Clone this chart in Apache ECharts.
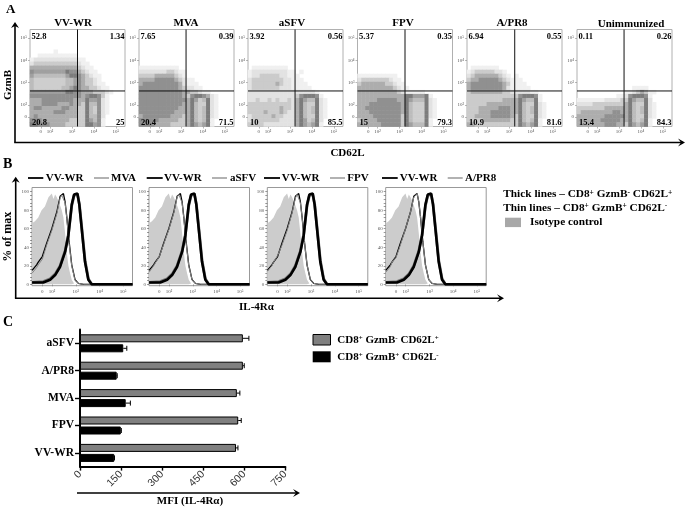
<!DOCTYPE html>
<html><head><meta charset="utf-8">
<style>html,body{margin:0;padding:0;background:#fff}#c{width:689px;height:510px;filter:blur(0.45px)}</style>
<script src="https://cdn.jsdelivr.net/npm/echarts@6/dist/echarts.min.js"></script>
</head><body><div id="c"></div>
<script>
// ---------- DATA ----------
const flowNames = ['VV-WR','MVA','aSFV','FPV','A/PR8','Unimmunized'];
const flowUL = ['52.8','7.65','3.92','5.37','6.94','0.11'];
const flowUR = ['1.34','0.39','0.56','0.35','0.55','0.26'];
const flowLL = ['20.8','20.4','10','15','10.9','15.4'];
const flowLR = ['25','71.5','85.5','79.3','81.6','84.3'];
const flowGateX = [3.25,3.23,3.23,3.25,3.26,3.23];
const flowGateY = 2.63;
const flowTickValues = [1.58,2,3,4,5];
const flowYTickValues = [1.47,2,3,4,5];
const flowTickLabels = ['0','10²','10³','10⁴','10⁵'];
// density estimates: 24 rows x 24 columns, 0 = empty, 9 = densest
const densVV = [
'000000000000000000000000','000000000000000000000000','000000000000000000000000','000000000000000000000000',
'000000000000000000000000','000000100000000000000000','001111111111000000000000','122222222222110000000000',
'233333333333211000000000','444444444444321100000000','577777777655432110000000','788888888766543211000000',
'899999999887543321000000','899999999887543321100000','899999998876544332110000','777777777665544433321000',
'555555555555545665310000','444555555554446775210000','444555544454436885210000','455444445544336895210000',
'444444555444336895210000','454444444444336885200000','555444444433336785100000','665554444333336675100000'];
const densMVA = [
'000000000000000000000000','000000000000000000000000','000000000000000000000000','000000000000000000000000',
'000000000000000000000000','000000000000000000000000','000000000000000000000000','000000000000000000000000',
'000000000000000000000000','111111111100000000000000','222222233211000000000000','333344444321000000000000',
'444455555432110000000000','455555555542111000000000','555555555543221100000000','555555555554433211000000',
'555555555554356654210000','555555555555467986210000','555555555554468996210000','555555555544468986210000',
'555555555444468986210000','455555554443468986210000','555554444433468986100000','555544443333467876100000'];
const densSFV = [
'000000000000000000000000','000000000000000000000000','000000000000000000000000','000000000000000000000000',
'000000000000000000000000','000000000000000000000000','000000000000000000000000','000000000000000000000000',
'000000000000000000000000','011111111100000000000000','122222222211010000000000','122333332211100000000000',
'233333333221110000000000','233333343221111000000000','233333332221111100000000','222222222222222221000000',
'222222222222356665100000','223223232232467886210000','333333333332468996210000','333333334332468986210000',
'333343334322468986210000','233333433222468996210000','233333332222467986200000','333322222222467876100000'];
const densFPV = [
'000000000000000000000000','000000000000000000000000','000000000000000000000000','000000000000000000000000',
'000000000000000000000000','000000000000000000000000','000000000000000000000000','000000000000000000000000',
'000000000000000000000000','000000000000000000000000','000000000000000000000000','111111111100000000000000',
'233333332110000000000000','344444433211000000000000','444444444321100000000000','444444444432111110000000',
'444444444444667776100000','444445555544678886210000','444555555554689996210000','445555555554689996210000',
'444555555554689996210000','444455555553689996210000','344445555553689996100000','444444555553678886100000'];
const densPR8 = [
'000000000000000000000000','000000000000000000000000','000000000000000000000000','000000000000000000000000',
'000000000000000000000000','000000000000000000000000','000000000000000000000000','000000000000000000000000',
'000000000000000000000000','011111110000000000000000','123333322100000000000000','234444443210100000000000',
'344555554321110000000000','455555555431111000000000','455555555421111100000000','344444444332222211000000',
'333333333333356665100000','333333333444467886100000','333334444444468996210000','333444445554468986210000',
'333444555554468986210000','334444555554368996210000','333344444443368986100000','443333333333367876100000'];
const densUN = [
'000000000000000000000000','000000000000000000000000','000000000000000000000000','000000000000000000000000',
'000000000000000000000000','000000000000000000000000','000000000000000000000000','000000000000000000000000',
'000000000000000000000000','000000000000000000000000','000000000000000000000000','000000000000000000000000',
'000000000000000000000000','000000000000000000000000','000000000000001111000000','000000000000112343110000',
'000000000011256665100000','111111122223367886200000','222233333333468996210000','333333344444468986210000',
'344444444554468986210000','444444455555468996210000','444444555554468986100000','444444455544367876100000'];
const densAll = [densVV,densMVA,densSFV,densFPV,densPR8,densUN];

const histNames = ['MVA','aSFV','FPV','A/PR8'];
const histTickValues = [1.59,2,3,4,5];
const histTickLabels = ['0','10²','10³','10⁴','10⁵'];
const histYLabels = [0,20,40,60,80,100];
const isoX = [1.16,1.21,1.28,1.35,1.42,1.49,1.56,1.63,1.70,1.77,1.85,1.92,1.99,2.06,2.13,2.20,2.27,2.34,2.41,2.48,2.55,2.62,2.69,2.76,2.83,2.93,3.00];
const isoY = [66,66,68,69,72,71,80,78,84,83,94,92,98,92,97,94,90,85,80,72,55,35,20,12,5,1,0];
const thinX = [1.16,1.21,1.35,1.42,1.59,1.77,1.99,2.20,2.34,2.41,2.48,2.55,2.62,2.72,2.83,2.97,3.11,3.32,5.39];
const vvThin = [15,17,21,24,30,44,60,78,95,97,98,89,73,46,21,5,1,0,0];
const mvaThin = [12,14,18,21,27,42,58,76,93,96,98,88,72,44,20,4,1,0,0];
const sfvThin = [13,15,20,23,30,43,59,77,94,97,97,88,72,45,20,5,1,0,0];
const fpvThin = [14,16,20,24,31,42,58,77,93,97,97,88,73,46,21,5,1,0,0];
const pr8Thin = [13,15,19,24,29,42,60,78,94,96,98,89,74,46,21,5,1,0,0];
const thickX = [1.16,1.21,1.63,1.92,2.13,2.34,2.55,2.69,2.83,2.93,3.07,3.15,3.25,3.39,3.53,3.67,5.39];
const vvThick = [2,1,2,5,10,19,35,53,86,97,98,86,60,24,5,0,0];
const otherThick = [2,2,3,6,11,20,36,54,85,96,97,87,62,26,6,0,0];

const mfiCategories = ['aSFV','A/PR8','MVA','FPV','VV-WR'];
const mfiNeg = [595,595,573,578,570];
const mfiNegHigh = [617,600,584,589,577];
const mfiPos = [158,134,167,149,125];
const mfiPosHigh = [171,136,184,151,126];
const mfiTicks = [0,150,300,450,600,750];

// ---------- LAYOUT ----------
const SERIF = '"Liberation Serif","Times New Roman",serif';
const flowLeft = [30,139,248,357.5,467,577];
const flowTitleX = [73,186,292,403,512,631];
const flowW = 95, flowTop = 29.5, flowH = 97;
const histLeft = [32,149,267.3,385.7];
const histW = 100.5, histTop = 187.5, histH = 98.2;
const histLegend = [[28,43.3,45.7,94,109,111],[146.7,162.7,164,212,227,230],[264,280,281.7,330,345,347.3],[382,397.7,399.7,447.7,462.7,465]];

const grids=[],xAxes=[],yAxes=[],series=[],graphic=[],heatIdx=[];
const idxRange = n => Array.from({length:n},(_,i)=>i);

function txt(x,y,text,o={}){
  graphic.push({type:'text',x,y,rotation:o.rot||0,z:50,silent:true,style:Object.assign({
    text,font:`${o.w||'bold'} ${o.size||11}px ${SERIF}`,fill:o.color||'#000',
    textAlign:o.align||'left',textVerticalAlign:'middle'},o.rich?{rich:o.rich}:{})});
}
function seg(x1,y1,x2,y2,color,w){
  graphic.push({type:'line',z:40,silent:true,shape:{x1,y1,x2,y2},style:{stroke:color,lineWidth:w}});
}
function head(points){
  graphic.push({type:'polygon',z:41,silent:true,shape:{points},style:{fill:'#000'}});
}
function arrowUp(x,y1,y2){seg(x,y1,x,y2+2,'#000',1.6);head([[x,y2],[x-4,y2+6],[x,y2+4],[x+4,y2+6]]);}
function arrowRight(x1,x2,y){seg(x1,y,x2-2,y,'#000',1.6);head([[x2,y],[x2-7,y-4],[x2-4,y],[x2-7,y+4]]);}

// ---- Panel A
densAll.forEach((rows,p)=>{
  const g = grids.length;
  grids.push({left:flowLeft[p],top:flowTop,width:flowW,height:flowH,show:true,borderColor:'#b0b0b0',borderWidth:1,backgroundColor:'#fff'});
  const xc=xAxes.length, yc=yAxes.length;
  xAxes.push({type:'category',gridIndex:g,show:false,data:idxRange(24)});
  yAxes.push({type:'category',gridIndex:g,show:false,inverse:true,data:idxRange(24)});
  const xv=xAxes.length, yv=yAxes.length;
  const lab={color:'#555',fontSize:5,fontFamily:SERIF,margin:3,formatter:v=>flowTickLabels[flowTickValues.indexOf(v)]};
  const laby={color:'#555',fontSize:5,fontFamily:SERIF,margin:3,formatter:v=>flowTickLabels[flowYTickValues.indexOf(v)]};
  xAxes.push({type:'value',gridIndex:g,position:'bottom',min:1.09,max:5.41,splitLine:{show:false},
    axisLine:{show:false},axisTick:{show:true,length:2,lineStyle:{color:'#888',width:.6},customValues:flowTickValues},
    axisLabel:Object.assign({customValues:flowTickValues},lab)});
  yAxes.push({type:'value',gridIndex:g,position:'left',min:1.04,max:5.38,splitLine:{show:false},
    axisLine:{show:false},axisTick:{show:true,length:2,lineStyle:{color:'#888',width:.6},customValues:flowYTickValues},
    axisLabel:Object.assign({customValues:flowYTickValues},laby)});
  const cells=[];
  rows.forEach((row,r)=>row.split('').forEach((ch,c)=>{if(ch!=='0')cells.push([c,r,+ch]);}));
  heatIdx.push(series.length);
  series.push({type:'heatmap',xAxisIndex:xc,yAxisIndex:yc,data:cells,silent:true,itemStyle:{borderWidth:0}});
  series.push({type:'line',xAxisIndex:xv,yAxisIndex:yv,symbol:'none',silent:true,z:5,lineStyle:{color:'#111',width:1},
    data:[[flowGateX[p],1.04],[flowGateX[p],5.38]]});
  series.push({type:'line',xAxisIndex:xv,yAxisIndex:yv,symbol:'none',silent:true,z:5,lineStyle:{color:'#111',width:1},
    data:[[1.09,flowGateY],[5.41,flowGateY]]});
  const l=flowLeft[p], r=l+flowW;
  txt(flowTitleX[p],p===5?23.7:22.7,flowNames[p],{align:'center',size:11});
  txt(l+1.5,36.5,flowUL[p],{size:8.5});
  txt(r-0.5,36.5,flowUR[p],{size:8.5,align:'right'});
  txt(l+2,123,flowLL[p],{size:8.5});
  txt(r-0.5,123,flowLR[p],{size:8.5,align:'right'});
});

// ---- Panel B
const otherThin=[mvaThin,sfvThin,fpvThin,pr8Thin];
const zip=(a,b)=>a.map((v,i)=>[v,b[i]]);
histNames.forEach((name,p)=>{
  const g=grids.length;
  grids.push({left:histLeft[p],top:histTop,width:histW,height:histH,show:true,borderColor:'#999',borderWidth:1,backgroundColor:'#fff'});
  const xi=xAxes.length, yi=yAxes.length;
  xAxes.push({type:'value',gridIndex:g,min:1.156,max:5.39,splitLine:{show:false},axisLine:{show:false},
    axisTick:{show:true,length:2,lineStyle:{color:'#777',width:.6},customValues:histTickValues},
    axisLabel:{customValues:histTickValues,color:'#555',fontSize:5,fontFamily:SERIF,margin:3,formatter:v=>histTickLabels[histTickValues.indexOf(v)]}});
  yAxes.push({type:'value',gridIndex:g,min:-1.5,max:104.5,splitLine:{show:false},axisLine:{show:false},
    axisTick:{show:true,length:2,lineStyle:{color:'#555',width:.6},customValues:idxRange(26).map(i=>i*4)},
    axisLabel:{customValues:histYLabels,color:'#555',fontSize:5,fontFamily:SERIF,margin:3,showMinLabel:true}});
  const base={type:'line',xAxisIndex:xi,yAxisIndex:yi,symbol:'none',silent:true};
  series.push(Object.assign({},base,{data:zip(isoX,isoY),lineStyle:{width:0},areaStyle:{color:'#cccccc',opacity:1},z:2}));
  series.push(Object.assign({},base,{data:zip(thickX,otherThick),lineStyle:{color:'#777',width:2.8},z:3}));
  series.push(Object.assign({},base,{data:zip(thinX,vvThin),lineStyle:{color:'#000',width:1.3},z:4}));
  series.push(Object.assign({},base,{data:zip(thinX,otherThin[p]),lineStyle:{color:'#888',width:1},z:4}));
  series.push(Object.assign({},base,{data:zip(thickX,vvThick),lineStyle:{color:'#000',width:2.6},z:5}));
  const L=histLegend[p];
  seg(L[0],178,L[1],178,'#000',1.8);
  txt(L[2],177.7,'VV-WR',{size:11});
  seg(L[3],178,L[4],178,'#aaa',1.8);
  txt(L[5],178,name,{size:11});
});

// ---- Panel C
{
  const g=grids.length;
  grids.push({left:80,top:329.6,width:205.3,height:137});
  const xi=xAxes.length, yi=yAxes.length;
  xAxes.push({type:'value',gridIndex:g,min:0,max:750,interval:150,splitLine:{show:false},
    axisLine:{show:true,lineStyle:{color:'#000',width:2}},axisTick:{show:true,length:4,lineStyle:{color:'#000',width:1.4}},
    axisLabel:{rotate:45,margin:6,fontSize:10.5,color:'#333',fontFamily:'"Liberation Sans",Arial,sans-serif',customValues:mfiTicks}});
  yAxes.push({type:'category',gridIndex:g,inverse:true,data:mfiCategories,
    axisLine:{show:true,lineStyle:{color:'#000',width:2}},axisTick:{show:true,length:5,alignWithLabel:true,lineStyle:{color:'#000',width:1.4}},
    axisLabel:{margin:6,fontSize:11.5,fontWeight:'bold',color:'#000',fontFamily:SERIF}});
  const barBase={type:'bar',xAxisIndex:xi,yAxisIndex:yi,barWidth:8,barGap:'25%',silent:true};
  series.push(Object.assign({},barBase,{name:'neg',data:mfiNeg,itemStyle:{color:'#808080',borderColor:'#000',borderWidth:1}}));
  series.push(Object.assign({},barBase,{name:'pos',data:mfiPos,itemStyle:{color:'#000',borderColor:'#000',borderWidth:1}}));
  const err=(lo,hi,off)=>({type:'custom',xAxisIndex:xi,yAxisIndex:yi,silent:true,z:6,
    data:mfiCategories.map((c,i)=>[lo[i],hi[i],i]),
    renderItem:(params,api)=>{
      const a=api.coord([api.value(0),api.value(2)]), b=api.coord([api.value(1),api.value(2)]);
      const y=a[1]+off;
      return {type:'group',children:[
        {type:'line',shape:{x1:a[0],y1:y,x2:b[0],y2:y},style:{stroke:'#000',lineWidth:1}},
        {type:'line',shape:{x1:b[0],y1:y-2.5,x2:b[0],y2:y+2.5},style:{stroke:'#000',lineWidth:1}}]};
    }});
  series.push(err(mfiNeg,mfiNegHigh,-5));
  series.push(err(mfiPos,mfiPosHigh,5));
}

// ---- Annotations
txt(6,9.5,'A',{size:13});
txt(3,164,'B',{size:14});
txt(3,322,'C',{size:14});
arrowUp(15,142.5,22); arrowRight(14.2,685,142.5);
txt(8,85,'GzmB',{rot:Math.PI/2,align:'center',size:11});
txt(347.5,152.7,'CD62L',{align:'center',size:11});
arrowUp(15.7,298.3,176.7); arrowRight(14.9,504,298.3);
txt(8,236.7,'% of max',{rot:Math.PI/2,align:'center',size:12});
txt(256.5,306.7,'IL-4Rα',{align:'center',size:11});
const sup={fontSize:7.5,fontWeight:'bold',fontFamily:SERIF,verticalAlign:'top',fill:'#000'};
const norm12={fontSize:11.3,fontWeight:'bold',fontFamily:SERIF,fill:'#000'};
txt(503.3,194.3,'{n|Thick lines – CD8}{s|+}{n| GzmB}{s|-}{n| CD62L}{s|+}',{rich:{n:norm12,s:sup}});
txt(503.3,207.7,'{n|Thin lines – CD8}{s|+}{n| GzmB}{s|+}{n| CD62L}{s|-}',{rich:{n:norm12,s:sup}});
graphic.push({type:'rect',z:40,silent:true,shape:{x:505,y:217.7,width:16,height:9.4},style:{fill:'#a8a8a8'}});
txt(530,222,'Isotype control',{size:11.3});
arrowRight(77,300,493);
txt(190,500.7,'MFI (IL-4Rα)',{align:'center',size:11});
graphic.push({type:'rect',z:40,silent:true,shape:{x:313,y:334.5,width:17.5,height:10.5},style:{fill:'#808080',stroke:'#000',lineWidth:1}});
graphic.push({type:'rect',z:40,silent:true,shape:{x:312.7,y:351.3,width:18,height:11},style:{fill:'#000'}});
const norm11={fontSize:11,fontWeight:'bold',fontFamily:SERIF,fill:'#000'};
const sup11={fontSize:7,fontWeight:'bold',fontFamily:SERIF,verticalAlign:'top',fill:'#000'};
txt(337.3,340,'{n|CD8}{s|+}{n| GzmB}{s|-}{n| CD62L}{s|+}',{rich:{n:norm11,s:sup11}});
txt(337.3,357.3,'{n|CD8}{s|+}{n| GzmB}{s|+}{n| CD62L}{s|-}',{rich:{n:norm11,s:sup11}});

const chart=echarts.init(document.getElementById('c'),null,{renderer:'canvas'});
chart.setOption({animation:false,backgroundColor:'#fff',grid:grids,xAxis:xAxes,yAxis:yAxes,series,graphic,
  visualMap:{show:false,type:'continuous',seriesIndex:heatIdx,dimension:2,min:0,max:9,
    inRange:{color:['#ffffff','#f0f0f0','#e2e2e2','#cbcbcb','#adadad','#909090','#7c7c7c','#a0a0a0','#bcbcbc','#cecece']}}});
</script></body></html>
